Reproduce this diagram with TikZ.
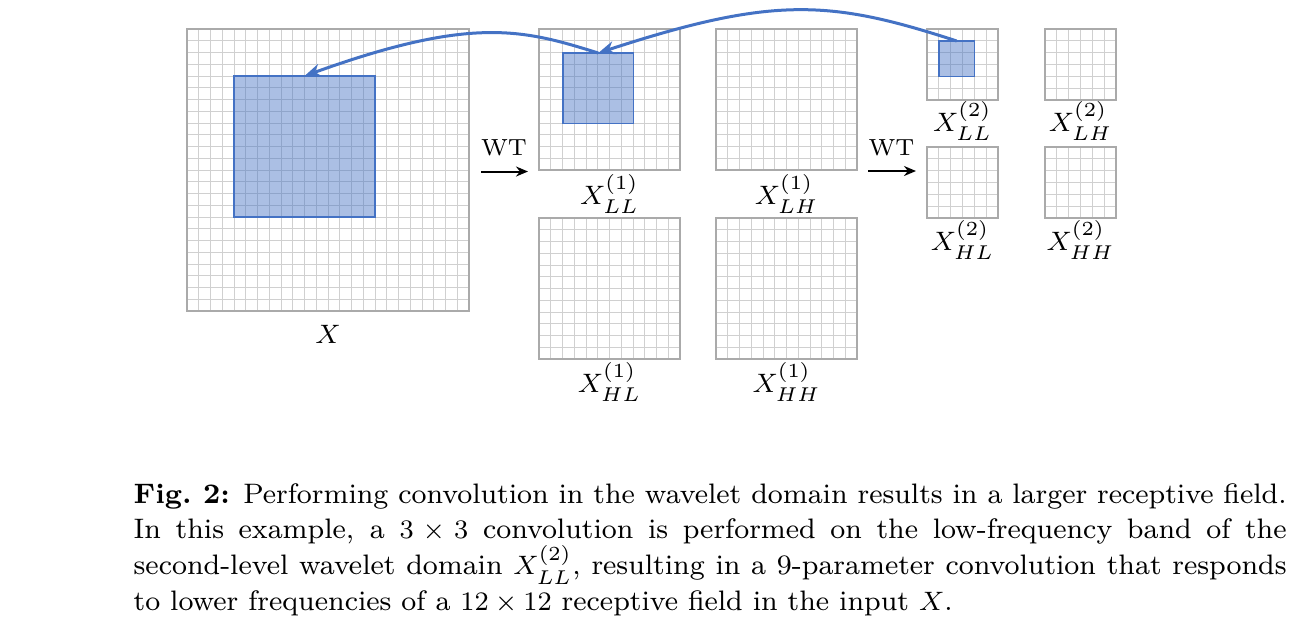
\documentclass[tikz,border=0pt]{standalone}
\usetikzlibrary{arrows.meta}
\definecolor{wblue}{RGB}{68,114,196}
\definecolor{gline}{RGB}{208,208,208}
\definecolor{gborder}{RGB}{170,170,170}
\newcommand{\wgrid}[5]{%
  \pgfmathsetmacro{\wgcell}{#4/#5}%
  \foreach \i in {1,...,#5}{%
    \draw[gridline] ({#2+\i*\wgcell},#3) -- ({#2+\i*\wgcell},{#3+#4});
    \draw[gridline] (#2,{#3+\i*\wgcell}) -- ({#2+#4},{#3+\i*\wgcell});
  }%
  \node[gridframe, minimum size={#4*0.3pt}, anchor=north west] (#1) at (#2,#3) {};
}
\tikzset{
  gridline/.style={draw=gline, line width=0.3pt},
  gridframe/.style={draw=gborder, line width=0.45pt, inner sep=0pt, outer sep=0pt},
  convbox/.style={draw=wblue, fill=wblue, fill opacity=0.45, draw opacity=1, line width=0.55pt, inner sep=0pt, outer sep=0pt, anchor=north west},
  linkarrow/.style={draw=wblue, line width=0.9pt, -{Stealth[length=5pt,width=4pt]}},
  wtarrow/.style={draw=black, line width=0.6pt, -{Stealth[length=3.6pt,width=3pt]}},
  lbl/.style={font=\fontsize{8.2}{10}\selectfont, inner sep=0pt, anchor=base},
  wtlbl/.style={font=\fontsize{7}{8}\selectfont, inner sep=0pt, anchor=base},
}
\begin{document}
\begin{tikzpicture}[x=0.3pt,y=-0.3pt]
\useasboundingbox (0,0) rectangle (1306,620);
% grids
\wgrid{gX}{187}{29}{282}{24}
\wgrid{gLL1}{539}{29}{141}{12}
\wgrid{gLH1}{716}{29}{141}{12}
\wgrid{gHL1}{539}{218}{141}{12}
\wgrid{gHH1}{716}{218}{141}{12}
\wgrid{gLL2}{927}{29}{71}{6}
\wgrid{gLH2}{1045}{29}{71}{6}
\wgrid{gHL2}{927}{147}{71}{6}
\wgrid{gHH2}{1045}{147}{71}{6}
% convolution windows
\node[convbox, minimum size={141*0.3pt}] (bX) at (234,76) {};
\node[convbox, minimum size={70.5*0.3pt}] (bLL1) at (563,53) {};
\node[convbox, minimum size={35.5*0.3pt}] (bLL2) at (939,41) {};
% labels
\node[lbl] (lX) at (328,343) {$X$};
\node[lbl] (lLL1) at (609.5,204) {$X^{(1)}_{LL}$};
\node[lbl] (lLH1) at (786.5,204) {$X^{(1)}_{LH}$};
\node[lbl] (lHL1) at (609.5,392) {$X^{(1)}_{HL}$};
\node[lbl] (lHH1) at (786.5,392) {$X^{(1)}_{HH}$};
\node[lbl] (lLL2) at (962.5,131) {$X^{(2)}_{LL}$};
\node[lbl] (lLH2) at (1080.5,131) {$X^{(2)}_{LH}$};
\node[lbl] (lHL2) at (962.5,250) {$X^{(2)}_{HL}$};
\node[lbl] (lHH2) at (1080.5,250) {$X^{(2)}_{HH}$};
% WT arrows
\coordinate (wa1) at (481,171.5);
\coordinate (wb1) at (528,171.5);
\draw[wtarrow] (wa1) -- (wb1);
\node[wtlbl] (wt1) at (504,155) {WT};
\coordinate (wa2) at (868,171);
\coordinate (wb2) at (916,171);
\draw[wtarrow] (wa2) -- (wb2);
\node[wtlbl] (wt2) at (891.5,155) {WT};
% receptive field links
\draw[linkarrow] (bLL2.north) .. controls +(-126,-41) and +(176,-57.5) .. (bLL1.north);
\draw[linkarrow] (bLL1.north) .. controls +(-74,-23) and +(169,-61) .. (bX.north);
% caption
\node[inner sep=0pt, anchor=base west] (cap) at (133,503) {\parbox[t]{345.9pt}{\fontsize{8.45}{10.7}\selectfont\textbf{Fig.~2:} Performing convolution in the wavelet domain results in a larger receptive field.\linebreak In this example, a $3\times3$ convolution is performed on the low-frequency band of the\linebreak second-level wavelet domain $X^{(2)}_{LL}$, resulting in a 9-parameter convolution that responds\linebreak to lower frequencies of a $12\times12$ receptive field in the input $X$.}};
\end{tikzpicture}
\end{document}
